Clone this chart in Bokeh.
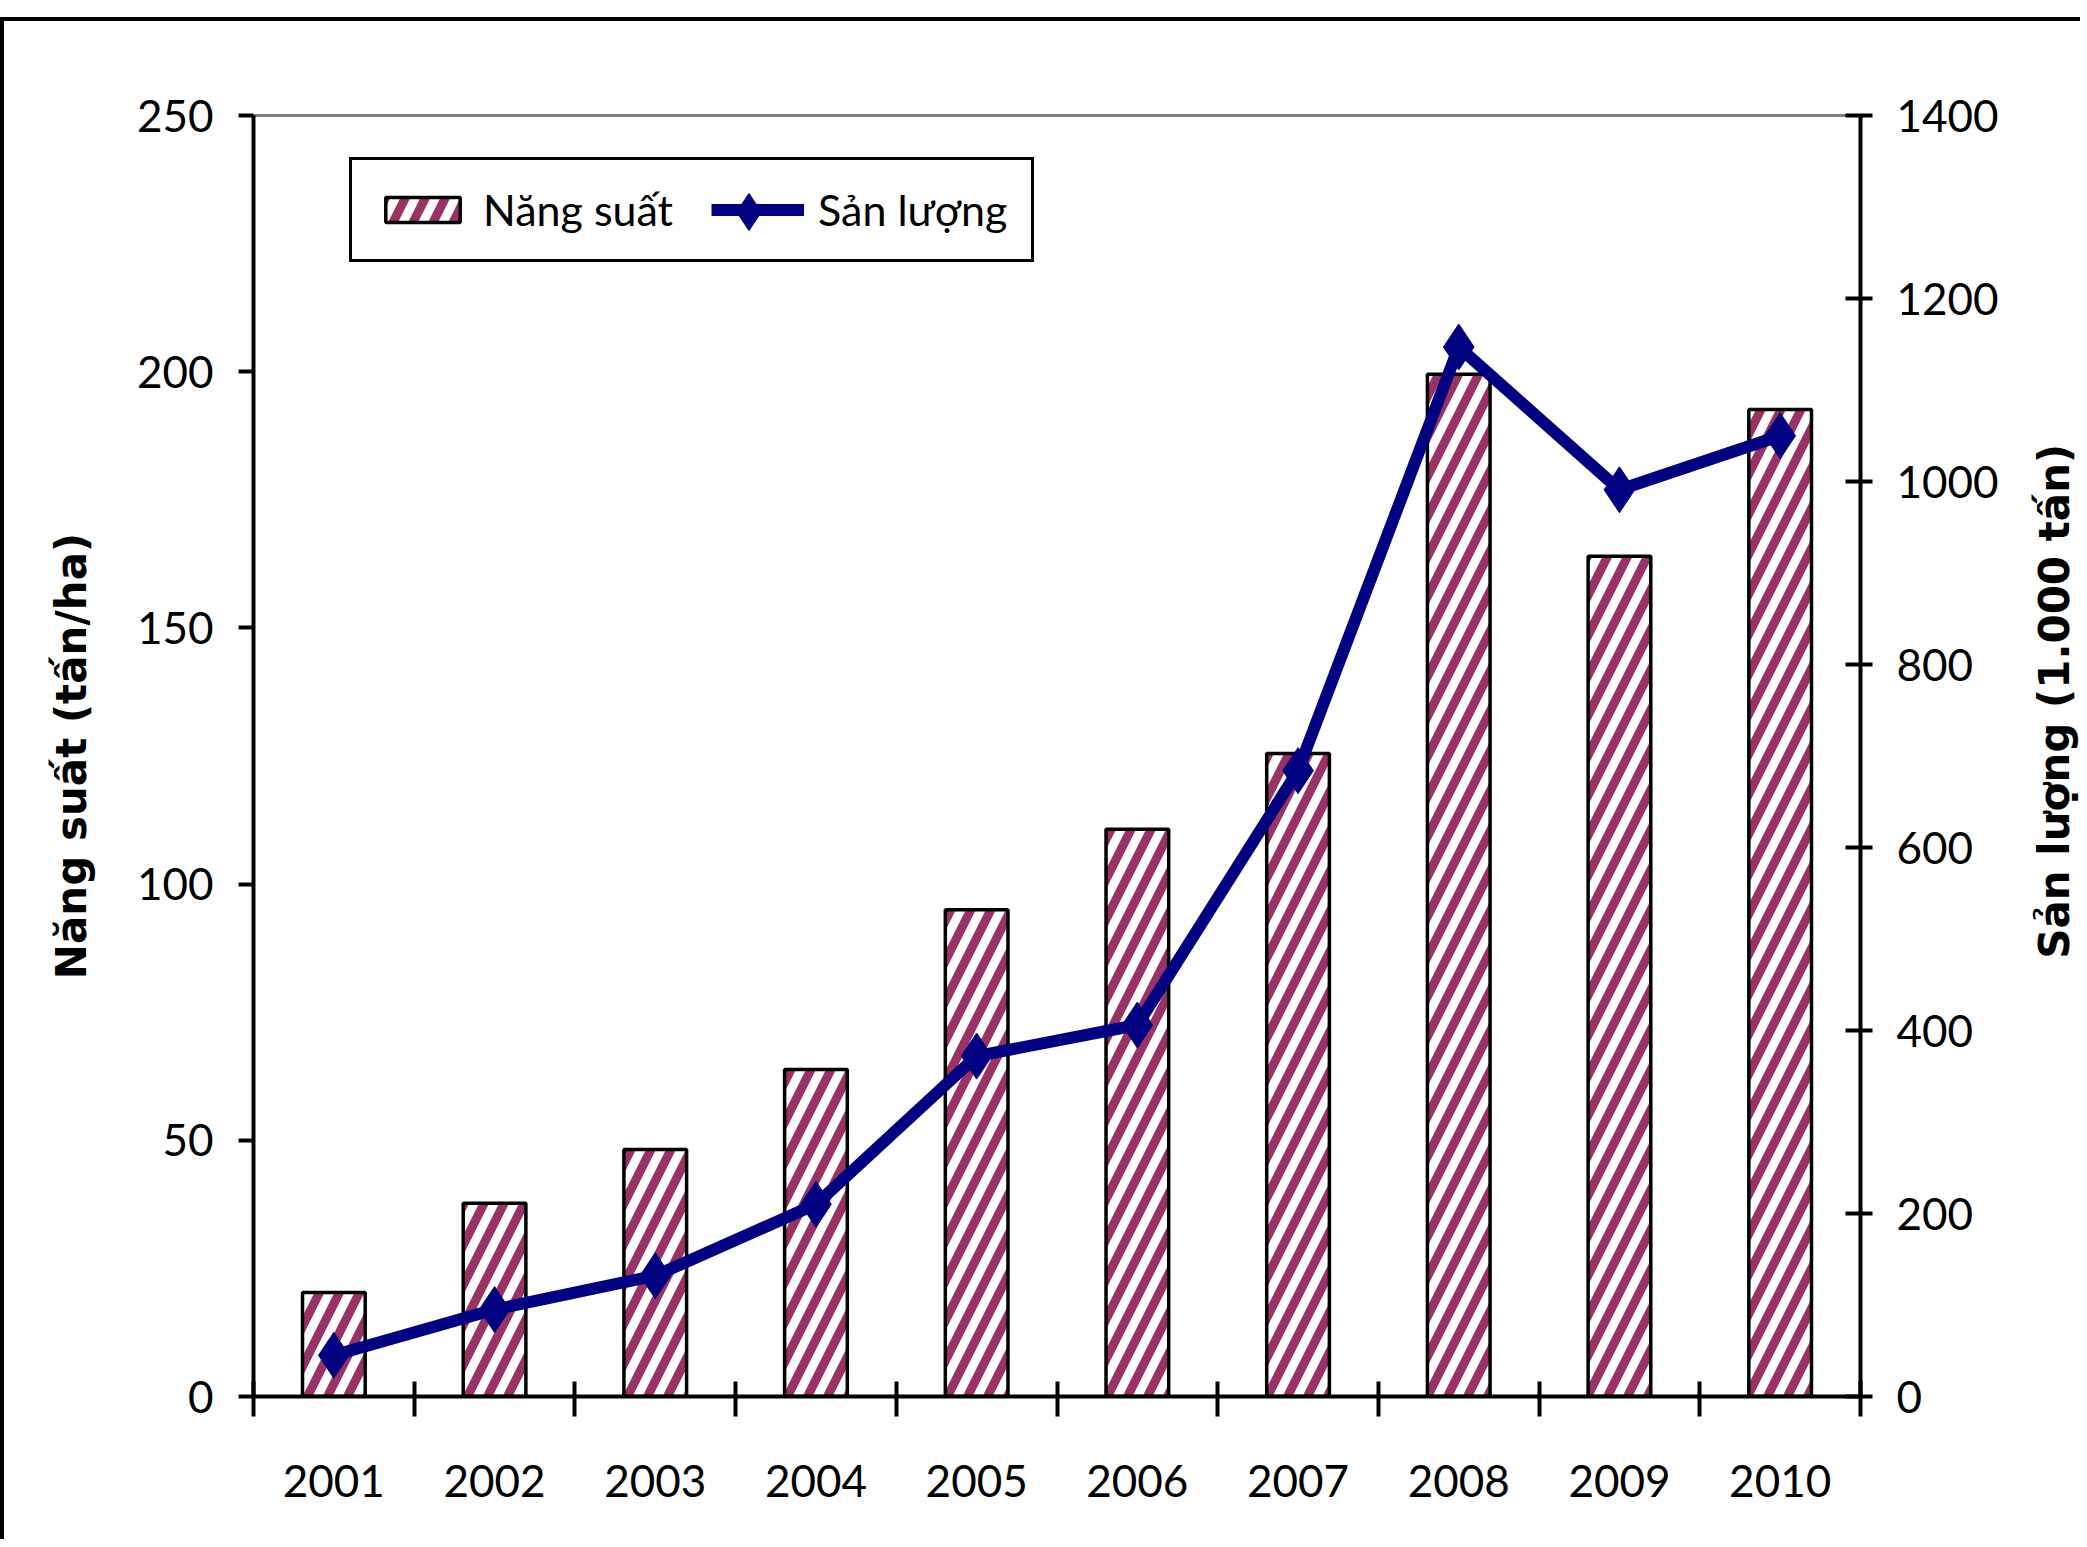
import math
from bokeh.plotting import figure
from bokeh.layouts import row
from bokeh.models import Range1d, LinearAxis, FixedTicker, Legend, LegendItem, ColumnDataSource, Label
from bokeh.embed import file_html
from bokeh.resources import INLINE

# ---- data ----
years = ["2001", "2002", "2003", "2004", "2005", "2006", "2007", "2008", "2009", "2010"]
nang_suat = [20.3, 37.7, 48.2, 63.8, 95.0, 110.7, 125.5, 199.5, 164.0, 192.6]   # tấn/ha
san_luong = [45, 95, 132, 210, 372, 406, 684, 1147, 991, 1050]                  # 1.000 tấn
left_ticks = [0, 50, 100, 150, 200, 250]
right_ticks = [0, 200, 400, 600, 800, 1000, 1200, 1400]

label_left = "Năng suất (tấn/ha)"
label_right = "Sản lượng (1.000 tấn)"
legend_bar = "Năng suất"
legend_line = "Sản lượng"

# ---- styling ----
W1, W2, H = 2024, 56, 1522
TICK_FONT = "Lato"
TICK_SIZE = "44px"
TITLE_FONT = "DejaVu Sans"
TITLE_SIZE = "42px"
BAR_HATCH = "#993366"
LINE_COLOR = "#000080"

n = len(years)
centers = [i + 0.5 for i in range(n)]
src = ColumnDataSource(dict(x=centers, ns=nang_suat, sl=san_luong, year=years))

p = figure(width=W1, height=H, output_backend="svg", toolbar_location=None,
           x_range=Range1d(0, n), y_range=Range1d(left_ticks[0], left_ticks[-1]),
           min_border_left=249, min_border_right=168, min_border_top=94, min_border_bottom=147,
           background_fill_color="white", border_fill_color="white")
p.styles = {"margin-top": "17px", "border-top": "4px solid black", "border-left": "4px solid black"}
p.grid.visible = False
p.outline_line_color = "#808080"
p.outline_line_alpha = 1
p.outline_line_width = 3

p.extra_y_ranges = {"sl": Range1d(right_ticks[0], right_ticks[-1])}

bars = p.vbar(x="x", top="ns", width=0.39, source=src, fill_color="white",
              line_color="black", line_width=3.5,
              hatch_pattern="/", hatch_color=BAR_HATCH, hatch_scale=40, hatch_weight=9)
ln = p.line(x="x", y="sl", source=src, y_range_name="sl", line_color=LINE_COLOR, line_width=12)
sc = p.scatter(x="x", y="sl", source=src, y_range_name="sl", marker="diamond", size=46,
               fill_color=LINE_COLOR, line_color=LINE_COLOR)

# x axis: labels at centers, ticks at category boundaries
xa = p.xaxis[0]
xa.ticker = FixedTicker(ticks=centers, minor_ticks=list(range(n + 1)))
xa.major_label_overrides = {c: y for c, y in zip(centers, years)}
xa.major_tick_line_color = None
xa.major_tick_in = 0
xa.major_tick_out = 0
xa.minor_tick_line_color = "black"
xa.minor_tick_line_width = 4
xa.minor_tick_in = 15
xa.minor_tick_out = 20
xa.axis_line_width = 4
xa.axis_line_color = "black"
xa.major_label_standoff = 48
xa.major_label_text_font = TICK_FONT
xa.major_label_text_font_size = TICK_SIZE
xa.major_label_text_color = "black"

# left axis
ya = p.yaxis[0]
ya.ticker = FixedTicker(ticks=left_ticks, minor_ticks=[])
ya.major_tick_in = 0
ya.major_tick_out = 15
ya.major_tick_line_width = 4
ya.axis_line_width = 4
ya.minor_tick_line_color = None
ya.major_label_standoff = 25
ya.major_label_text_font = TICK_FONT
ya.major_label_text_font_size = TICK_SIZE
ya.major_label_text_color = "black"
ya.axis_label = label_left
ya.axis_label_standoff = 38
ya.axis_label_text_font = TITLE_FONT
ya.axis_label_text_font_style = "bold"
ya.axis_label_text_font_size = TITLE_SIZE
ya.axis_label_text_color = "black"

# right axis (ticks and numbers)
ra = LinearAxis(y_range_name="sl", ticker=FixedTicker(ticks=right_ticks, minor_ticks=[]))
ra.major_tick_in = 15
ra.major_tick_out = 12
ra.major_tick_line_width = 4
ra.axis_line_width = 4
ra.minor_tick_line_color = None
ra.major_label_standoff = 24
ra.major_label_text_font = TICK_FONT
ra.major_label_text_font_size = TICK_SIZE
ra.major_label_text_color = "black"
p.add_layout(ra, "right")

legend = Legend(items=[LegendItem(label=legend_bar, renderers=[bars]),
                       LegendItem(label=legend_line, renderers=[ln, sc])],
                location=(96, 1134), orientation="horizontal",
                border_line_color="black", border_line_width=3, border_line_alpha=1,
                background_fill_color="white", background_fill_alpha=1,
                padding=24, spacing=38, glyph_width=93, glyph_height=31,
                label_standoff=14, label_text_font=TICK_FONT, label_text_font_size="43px",
                label_text_color="black", margin=0)
p.add_layout(legend)

# larger diamond overlay for the line's legend symbol
legend2 = Legend(items=[LegendItem(label=" ", renderers=[sc])],
                 location=(449, 1138), orientation="horizontal",
                 border_line_color=None, background_fill_alpha=0,
                 padding=0, spacing=0, glyph_width=93, glyph_height=93,
                 label_standoff=0, label_text_font_size="2px", margin=0)
p.add_layout(legend2)

# right-hand title strip (title reads bottom-to-top like the left one)
s = figure(width=W2, height=H, output_backend="svg", toolbar_location=None,
           x_range=Range1d(0, W2), y_range=Range1d(0, H),
           x_axis_location=None, y_axis_location=None, min_border=0,
           background_fill_color="white", border_fill_color="white")
s.styles = {"margin-top": "17px", "border-top": "4px solid black"}
s.grid.visible = False
s.outline_line_color = None
s.add_layout(Label(x=30, y=826, text=label_right, angle=math.pi / 2,
                   text_align="center", text_baseline="middle",
                   text_font=TITLE_FONT, text_font_style="bold", text_font_size=TITLE_SIZE,
                   text_color="black"))

layout = row(p, s, spacing=0)
open("out.html", "w").write(file_html(layout, INLINE))
